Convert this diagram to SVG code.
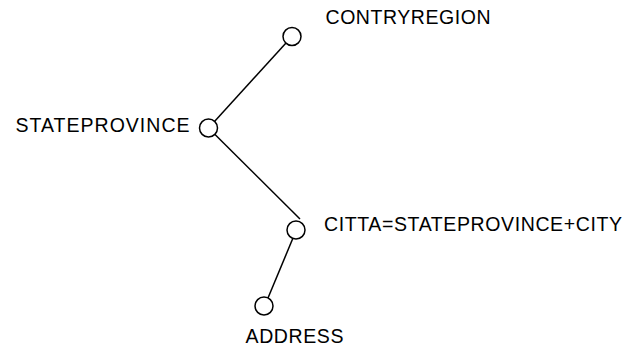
<svg xmlns="http://www.w3.org/2000/svg" width="629" height="348" viewBox="0 0 629 348">
<style>
.n{fill:#fff;stroke:#000;stroke-width:1.5}
.e{stroke:#000;stroke-width:1.5;fill:none}
text{font-family:"Liberation Sans",Arial,sans-serif;font-size:19.5px;fill:#000}
</style>
<rect width="629" height="348" fill="#fff"/>
<g id="connectors">
<line class="e" x1="214.5" y1="121.5" x2="286" y2="43"/>
<line class="e" x1="214.5" y1="134" x2="300" y2="219"/>
<line class="e" x1="293" y1="238" x2="268" y2="298"/>
</g>
<g id="contryregion"><circle class="n" cx="292" cy="36.5" r="9"/><text x="325.5" y="24" textLength="165" lengthAdjust="spacing">CONTRYREGION</text></g>
<g id="stateprovince"><circle class="n" cx="208.5" cy="128" r="9"/><text x="15.5" y="131.5" textLength="174" lengthAdjust="spacing">STATEPROVINCE</text></g>
<g id="citta"><circle class="n" cx="296" cy="230" r="9"/><text x="324" y="230.5" textLength="298" lengthAdjust="spacing">CITTA=STATEPROVINCE+CITY</text></g>
<g id="address"><circle class="n" cx="264" cy="306" r="9"/><text x="245.5" y="343" textLength="98" lengthAdjust="spacing">ADDRESS</text></g>
</svg>
